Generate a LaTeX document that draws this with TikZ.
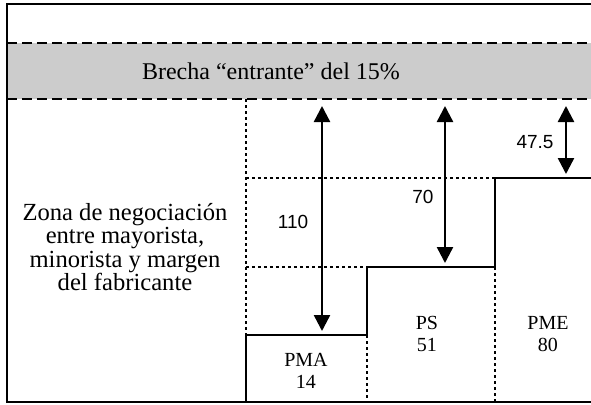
\documentclass[tikz,border=0pt]{standalone}
\usepackage{fontspec}
\setmainfont{Liberation Serif}
\newfontfamily\numfont{Liberation Sans}
\usetikzlibrary{arrows.meta}

\tikzset{
  frameline/.style={line width=1pt},
  cutline/.style={line width=1.3pt, dash pattern=on 5pt off 2.5pt},
  guide/.style={line width=0.65pt, dash pattern=on 1.5pt off 1.5pt},
  stepline/.style={line width=1.4pt},
  span/.style={line width=1.2pt, {Triangle[width=8pt,length=8pt]}-{Triangle[width=8pt,length=8pt]}, shorten <=3.5pt, shorten >=2pt},
  tag/.style={font=\numfont\fontsize{9.5}{11}\selectfont},
  price/.style={align=center, font=\fontsize{10}{11}\selectfont}
}

\begin{document}
\begin{tikzpicture}[x=0.5pt, y=-0.5pt]
	\useasboundingbox (0,0) rectangle (591,404);

	% band of the incoming gap
	\fill[black!20] (7,43) rectangle (600,99);
	\draw[cutline] (7,43) -- (600,43);
	\draw[cutline] (7,99) -- (600,99);
	\draw[frameline] (600,4) -- (7,4) -- (7,402) -- (600,402);
	\node[font=\fontsize{12}{13}\selectfont] (gap) at (271,71) {Brecha “entrante” del 15\%};

	% price steps
	\foreach \name/\x/\y in {s0/246/402, s1/246/335, s2/367/335, s3/367/267, s4/495/267, s5/495/178, s6/600/178} {
			\coordinate (\name) at (\x,\y);
		}
	\coordinate (g0) at (246,99);
	\coordinate (g1) at (246,178);
	\coordinate (g2) at (246,267);
	\coordinate (b2) at (367,402);
	\coordinate (b4) at (495,402);

	\draw[guide] (g0) -- (s1);
	\draw[guide] (g1) -- (s5);
	\draw[guide] (g2) -- (s3);
	\draw[guide] (s2) -- (b2);
	\draw[guide] (s4) -- (b4);
	\draw[stepline] (s0) -- (s1) -- (s2) -- (s3) -- (s4) -- (s5) -- (s6);

	% distances to the gap
	\foreach \name/\x/\y in {a1/322/335, a2/445/267, a3/566/178} {
			\coordinate (\name top) at (\x,99);
			\coordinate (\name low) at (\x,\y);
			\draw[span] (\name top) -- (\name low);
		}
	\node[tag] (d1) at (293,222) {110};
	\node[tag] (d2) at (423,197) {70};
	\node[tag] (d3) at (535,142) {47.5};

	% price labels
	\node[price] (pma) at (306,371) {PMA\\14};
	\node[price] (ps) at (427,334) {PS\\51};
	\node[price] (pme) at (548,334) {PME\\80};

	\node[align=center, font=\fontsize{12.3}{11.7}\selectfont] (zone) at (125,247)
		{Zona de negociación\\entre mayorista,\\minorista y margen\\del fabricante};

\end{tikzpicture}
\end{document}
